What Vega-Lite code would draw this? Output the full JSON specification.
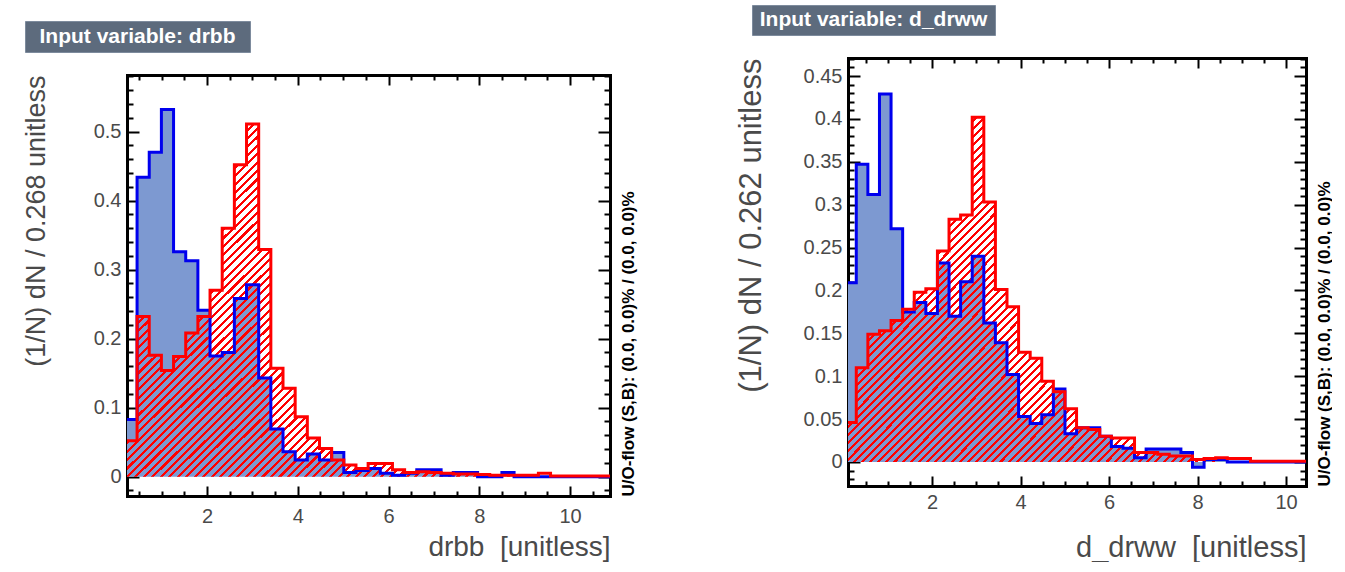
{
  "$schema": "https://vega.github.io/schema/vega-lite/v6.json",
  "background": "white",
  "padding": {"left": 22, "top": 4, "right": 0, "bottom": 0},
  "config": {
    "view": {"stroke": null},
    "axis": {"grid": false, "domainColor": "black", "domainWidth": 3, "domainCap": "square", "tickColor": "black", "tickWidth": 2, "labelFont": "Liberation Sans", "labelFontSize": 20, "labelColor": "#4a4a4a", "titleFont": "Liberation Sans", "titleFontSize": 28, "titleFontWeight": "normal", "titleColor": "#4a4a4a", "zindex": 1, "labelFlush": false, "labelOverlap": false}
  },
  "spacing": 99,
  "hconcat": [
    {
      "spacing": 0,
      "vconcat": [
        {"width": 1, "height": 15, "view": {"fill": "white", "stroke": null}, "data": {"values": []}, "mark": "point"},
        {
          "spacing": 21,
          "vconcat": [
            {"width": 225, "height": 31, "view": {"fill": "#5D6B7D", "stroke": "#7D8B9D"}, "data": {"values": [{"label": "Input variable: drbb"}]}, "mark": {"type": "text", "font": "Liberation Sans", "fontWeight": "bold", "fontSize": 21, "fill": "white"}, "encoding": {"text": {"field": "label"}}},
            {
              "spacing": -4,
              "hconcat": [
                {"width": 1, "height": 1, "view": {"fill": "white", "stroke": null}, "data": {"values": []}, "mark": "point"},
                {
                  "width": 483, "height": 421,
                  "data": {"values": [
{"x":0.190,"sig":0.083,"bkg":0.052},{"x":0.458,"sig":0.434,"bkg":0.232},{"x":0.726,"sig":0.470,"bkg":0.176},{"x":0.994,"sig":0.532,"bkg":0.154},
{"x":1.262,"sig":0.326,"bkg":0.174},{"x":1.530,"sig":0.313,"bkg":0.208},{"x":1.798,"sig":0.241,"bkg":0.232},{"x":2.066,"sig":0.175,"bkg":0.270},
{"x":2.334,"sig":0.180,"bkg":0.360},{"x":2.602,"sig":0.258,"bkg":0.452},{"x":2.870,"sig":0.278,"bkg":0.511},{"x":3.138,"sig":0.143,"bkg":0.329},
{"x":3.406,"sig":0.069,"bkg":0.157},{"x":3.674,"sig":0.036,"bkg":0.128},{"x":3.942,"sig":0.024,"bkg":0.087},{"x":4.210,"sig":0.033,"bkg":0.056},
{"x":4.478,"sig":0.024,"bkg":0.041},{"x":4.746,"sig":0.035,"bkg":0.024},{"x":5.014,"sig":0.006,"bkg":0.017},{"x":5.282,"sig":0.009,"bkg":0.012},
{"x":5.550,"sig":0.012,"bkg":0.019},{"x":5.818,"sig":0.005,"bkg":0.019},{"x":6.086,"sig":0.002,"bkg":0.010},{"x":6.354,"sig":0.005,"bkg":0.006},
{"x":6.622,"sig":0.010,"bkg":0.007},{"x":6.890,"sig":0.010,"bkg":0.006},{"x":7.158,"sig":0.002,"bkg":0.005},{"x":7.426,"sig":0.006,"bkg":0.004},
{"x":7.694,"sig":0.006,"bkg":0.004},{"x":7.962,"sig":0.000,"bkg":0.003},{"x":8.230,"sig":0.000,"bkg":0.002},{"x":8.498,"sig":0.006,"bkg":0.002},
{"x":8.766,"sig":0.000,"bkg":0.002},{"x":9.034,"sig":0.000,"bkg":0.002},{"x":9.302,"sig":0.000,"bkg":0.005},{"x":9.570,"sig":0.000,"bkg":0.001},
{"x":9.838,"sig":0.000,"bkg":0.001},{"x":10.106,"sig":0.000,"bkg":0.001},{"x":10.374,"sig":0.000,"bkg":0.001},{"x":10.642,"sig":0.000,"bkg":0.001},
{"x":10.910,"sig":0.000,"bkg":0.001}
                  ]},
                  "resolve": {"axis": {"x": "independent", "y": "independent"}},
                  "layer": [
                    {
                      "mark": {"type": "area", "interpolate": "step-after", "fill": "#7d99d1", "opacity": 1, "clip": true},
                      "encoding": {
                        "x": {"field": "x", "type": "quantitative", "scale": {"domain": [0.236, 10.88], "nice": false, "zero": false},
                              "axis": {"orient": "bottom", "values": [2, 4, 6, 8, 10], "format": "~r", "tickSize": -10, "labelPadding": 20, "title": "drbb\u00a0 [unitless]", "titleAnchor": "end", "titleAlign": "right", "titleBaseline": "top", "titlePadding": 7}},
                        "y": {"field": "sig", "type": "quantitative", "scale": {"domain": [-0.028, 0.582], "nice": false, "zero": false},
                              "axis": {"orient": "left", "values": [0, 0.1, 0.2, 0.3, 0.4, 0.5], "format": "~r", "tickSize": -12, "labelPadding": 18, "title": "(1/N) dN / 0.268 unitless", "titleFontSize": 27, "titleAnchor": "end", "titleAlign": "right", "titleAngle": 270, "titleBaseline": "bottom", "titlePadding": 43}},
                        "y2": {"datum": 0}
                      }
                    },
                    {
                      "mark": {"type": "area", "interpolate": "step-after", "opacity": 1, "clip": true,
                        "fill": {"gradient": "linear", "x1": 0, "y1": 0, "x2": 1, "y2": 0.73, "stops": [
{"offset":0,"color":"red"},{"offset":0.0042,"color":"red"},{"offset":0.0042,"color":"transparent"},{"offset":0.0114,"color":"transparent"},
{"offset":0.0114,"color":"red"},{"offset":0.0156,"color":"red"},{"offset":0.0156,"color":"transparent"},{"offset":0.0227,"color":"transparent"},
{"offset":0.0227,"color":"red"},{"offset":0.0269,"color":"red"},{"offset":0.0269,"color":"transparent"},{"offset":0.0341,"color":"transparent"},
{"offset":0.0341,"color":"red"},{"offset":0.0383,"color":"red"},{"offset":0.0383,"color":"transparent"},{"offset":0.0455,"color":"transparent"},
{"offset":0.0455,"color":"red"},{"offset":0.0497,"color":"red"},{"offset":0.0497,"color":"transparent"},{"offset":0.0568,"color":"transparent"},
{"offset":0.0568,"color":"red"},{"offset":0.0610,"color":"red"},{"offset":0.0610,"color":"transparent"},{"offset":0.0682,"color":"transparent"},
{"offset":0.0682,"color":"red"},{"offset":0.0724,"color":"red"},{"offset":0.0724,"color":"transparent"},{"offset":0.0795,"color":"transparent"},
{"offset":0.0795,"color":"red"},{"offset":0.0837,"color":"red"},{"offset":0.0837,"color":"transparent"},{"offset":0.0909,"color":"transparent"},
{"offset":0.0909,"color":"red"},{"offset":0.0951,"color":"red"},{"offset":0.0951,"color":"transparent"},{"offset":0.1023,"color":"transparent"},
{"offset":0.1023,"color":"red"},{"offset":0.1065,"color":"red"},{"offset":0.1065,"color":"transparent"},{"offset":0.1136,"color":"transparent"},
{"offset":0.1136,"color":"red"},{"offset":0.1178,"color":"red"},{"offset":0.1178,"color":"transparent"},{"offset":0.1250,"color":"transparent"},
{"offset":0.1250,"color":"red"},{"offset":0.1292,"color":"red"},{"offset":0.1292,"color":"transparent"},{"offset":0.1364,"color":"transparent"},
{"offset":0.1364,"color":"red"},{"offset":0.1406,"color":"red"},{"offset":0.1406,"color":"transparent"},{"offset":0.1477,"color":"transparent"},
{"offset":0.1477,"color":"red"},{"offset":0.1519,"color":"red"},{"offset":0.1519,"color":"transparent"},{"offset":0.1591,"color":"transparent"},
{"offset":0.1591,"color":"red"},{"offset":0.1633,"color":"red"},{"offset":0.1633,"color":"transparent"},{"offset":0.1705,"color":"transparent"},
{"offset":0.1705,"color":"red"},{"offset":0.1747,"color":"red"},{"offset":0.1747,"color":"transparent"},{"offset":0.1818,"color":"transparent"},
{"offset":0.1818,"color":"red"},{"offset":0.1860,"color":"red"},{"offset":0.1860,"color":"transparent"},{"offset":0.1932,"color":"transparent"},
{"offset":0.1932,"color":"red"},{"offset":0.1974,"color":"red"},{"offset":0.1974,"color":"transparent"},{"offset":0.2045,"color":"transparent"},
{"offset":0.2045,"color":"red"},{"offset":0.2087,"color":"red"},{"offset":0.2087,"color":"transparent"},{"offset":0.2159,"color":"transparent"},
{"offset":0.2159,"color":"red"},{"offset":0.2201,"color":"red"},{"offset":0.2201,"color":"transparent"},{"offset":0.2273,"color":"transparent"},
{"offset":0.2273,"color":"red"},{"offset":0.2315,"color":"red"},{"offset":0.2315,"color":"transparent"},{"offset":0.2386,"color":"transparent"},
{"offset":0.2386,"color":"red"},{"offset":0.2428,"color":"red"},{"offset":0.2428,"color":"transparent"},{"offset":0.2500,"color":"transparent"},
{"offset":0.2500,"color":"red"},{"offset":0.2542,"color":"red"},{"offset":0.2542,"color":"transparent"},{"offset":0.2614,"color":"transparent"},
{"offset":0.2614,"color":"red"},{"offset":0.2656,"color":"red"},{"offset":0.2656,"color":"transparent"},{"offset":0.2727,"color":"transparent"},
{"offset":0.2727,"color":"red"},{"offset":0.2769,"color":"red"},{"offset":0.2769,"color":"transparent"},{"offset":0.2841,"color":"transparent"},
{"offset":0.2841,"color":"red"},{"offset":0.2883,"color":"red"},{"offset":0.2883,"color":"transparent"},{"offset":0.2955,"color":"transparent"},
{"offset":0.2955,"color":"red"},{"offset":0.2997,"color":"red"},{"offset":0.2997,"color":"transparent"},{"offset":0.3068,"color":"transparent"},
{"offset":0.3068,"color":"red"},{"offset":0.3110,"color":"red"},{"offset":0.3110,"color":"transparent"},{"offset":0.3182,"color":"transparent"},
{"offset":0.3182,"color":"red"},{"offset":0.3224,"color":"red"},{"offset":0.3224,"color":"transparent"},{"offset":0.3295,"color":"transparent"},
{"offset":0.3295,"color":"red"},{"offset":0.3337,"color":"red"},{"offset":0.3337,"color":"transparent"},{"offset":0.3409,"color":"transparent"},
{"offset":0.3409,"color":"red"},{"offset":0.3451,"color":"red"},{"offset":0.3451,"color":"transparent"},{"offset":0.3523,"color":"transparent"},
{"offset":0.3523,"color":"red"},{"offset":0.3565,"color":"red"},{"offset":0.3565,"color":"transparent"},{"offset":0.3636,"color":"transparent"},
{"offset":0.3636,"color":"red"},{"offset":0.3678,"color":"red"},{"offset":0.3678,"color":"transparent"},{"offset":0.3750,"color":"transparent"},
{"offset":0.3750,"color":"red"},{"offset":0.3792,"color":"red"},{"offset":0.3792,"color":"transparent"},{"offset":0.3864,"color":"transparent"},
{"offset":0.3864,"color":"red"},{"offset":0.3906,"color":"red"},{"offset":0.3906,"color":"transparent"},{"offset":0.3977,"color":"transparent"},
{"offset":0.3977,"color":"red"},{"offset":0.4019,"color":"red"},{"offset":0.4019,"color":"transparent"},{"offset":0.4091,"color":"transparent"},
{"offset":0.4091,"color":"red"},{"offset":0.4133,"color":"red"},{"offset":0.4133,"color":"transparent"},{"offset":0.4205,"color":"transparent"},
{"offset":0.4205,"color":"red"},{"offset":0.4247,"color":"red"},{"offset":0.4247,"color":"transparent"},{"offset":0.4318,"color":"transparent"},
{"offset":0.4318,"color":"red"},{"offset":0.4360,"color":"red"},{"offset":0.4360,"color":"transparent"},{"offset":0.4432,"color":"transparent"},
{"offset":0.4432,"color":"red"},{"offset":0.4474,"color":"red"},{"offset":0.4474,"color":"transparent"},{"offset":0.4545,"color":"transparent"},
{"offset":0.4545,"color":"red"},{"offset":0.4587,"color":"red"},{"offset":0.4587,"color":"transparent"},{"offset":0.4659,"color":"transparent"},
{"offset":0.4659,"color":"red"},{"offset":0.4701,"color":"red"},{"offset":0.4701,"color":"transparent"},{"offset":0.4773,"color":"transparent"},
{"offset":0.4773,"color":"red"},{"offset":0.4815,"color":"red"},{"offset":0.4815,"color":"transparent"},{"offset":0.4886,"color":"transparent"},
{"offset":0.4886,"color":"red"},{"offset":0.4928,"color":"red"},{"offset":0.4928,"color":"transparent"},{"offset":0.5000,"color":"transparent"},
{"offset":0.5000,"color":"red"},{"offset":0.5042,"color":"red"},{"offset":0.5042,"color":"transparent"},{"offset":0.5114,"color":"transparent"},
{"offset":0.5114,"color":"red"},{"offset":0.5156,"color":"red"},{"offset":0.5156,"color":"transparent"},{"offset":0.5227,"color":"transparent"},
{"offset":0.5227,"color":"red"},{"offset":0.5269,"color":"red"},{"offset":0.5269,"color":"transparent"},{"offset":0.5341,"color":"transparent"},
{"offset":0.5341,"color":"red"},{"offset":0.5383,"color":"red"},{"offset":0.5383,"color":"transparent"},{"offset":0.5455,"color":"transparent"},
{"offset":0.5455,"color":"red"},{"offset":0.5497,"color":"red"},{"offset":0.5497,"color":"transparent"},{"offset":0.5568,"color":"transparent"},
{"offset":0.5568,"color":"red"},{"offset":0.5610,"color":"red"},{"offset":0.5610,"color":"transparent"},{"offset":0.5682,"color":"transparent"},
{"offset":0.5682,"color":"red"},{"offset":0.5724,"color":"red"},{"offset":0.5724,"color":"transparent"},{"offset":0.5795,"color":"transparent"},
{"offset":0.5795,"color":"red"},{"offset":0.5837,"color":"red"},{"offset":0.5837,"color":"transparent"},{"offset":0.5909,"color":"transparent"},
{"offset":0.5909,"color":"red"},{"offset":0.5951,"color":"red"},{"offset":0.5951,"color":"transparent"},{"offset":0.6023,"color":"transparent"},
{"offset":0.6023,"color":"red"},{"offset":0.6065,"color":"red"},{"offset":0.6065,"color":"transparent"},{"offset":0.6136,"color":"transparent"},
{"offset":0.6136,"color":"red"},{"offset":0.6178,"color":"red"},{"offset":0.6178,"color":"transparent"},{"offset":0.6250,"color":"transparent"},
{"offset":0.6250,"color":"red"},{"offset":0.6292,"color":"red"},{"offset":0.6292,"color":"transparent"},{"offset":0.6364,"color":"transparent"},
{"offset":0.6364,"color":"red"},{"offset":0.6406,"color":"red"},{"offset":0.6406,"color":"transparent"},{"offset":0.6477,"color":"transparent"},
{"offset":0.6477,"color":"red"},{"offset":0.6519,"color":"red"},{"offset":0.6519,"color":"transparent"},{"offset":0.6591,"color":"transparent"},
{"offset":0.6591,"color":"red"},{"offset":0.6633,"color":"red"},{"offset":0.6633,"color":"transparent"},{"offset":0.6705,"color":"transparent"},
{"offset":0.6705,"color":"red"},{"offset":0.6747,"color":"red"},{"offset":0.6747,"color":"transparent"},{"offset":0.6818,"color":"transparent"},
{"offset":0.6818,"color":"red"},{"offset":0.6860,"color":"red"},{"offset":0.6860,"color":"transparent"},{"offset":0.6932,"color":"transparent"},
{"offset":0.6932,"color":"red"},{"offset":0.6974,"color":"red"},{"offset":0.6974,"color":"transparent"},{"offset":0.7045,"color":"transparent"},
{"offset":0.7045,"color":"red"},{"offset":0.7087,"color":"red"},{"offset":0.7087,"color":"transparent"},{"offset":0.7159,"color":"transparent"},
{"offset":0.7159,"color":"red"},{"offset":0.7201,"color":"red"},{"offset":0.7201,"color":"transparent"},{"offset":0.7273,"color":"transparent"},
{"offset":0.7273,"color":"red"},{"offset":0.7315,"color":"red"},{"offset":0.7315,"color":"transparent"},{"offset":0.7386,"color":"transparent"},
{"offset":0.7386,"color":"red"},{"offset":0.7428,"color":"red"},{"offset":0.7428,"color":"transparent"},{"offset":0.7500,"color":"transparent"},
{"offset":0.7500,"color":"red"},{"offset":0.7542,"color":"red"},{"offset":0.7542,"color":"transparent"},{"offset":0.7614,"color":"transparent"},
{"offset":0.7614,"color":"red"},{"offset":0.7656,"color":"red"},{"offset":0.7656,"color":"transparent"},{"offset":0.7727,"color":"transparent"},
{"offset":0.7727,"color":"red"},{"offset":0.7769,"color":"red"},{"offset":0.7769,"color":"transparent"},{"offset":0.7841,"color":"transparent"},
{"offset":0.7841,"color":"red"},{"offset":0.7883,"color":"red"},{"offset":0.7883,"color":"transparent"},{"offset":0.7955,"color":"transparent"},
{"offset":0.7955,"color":"red"},{"offset":0.7997,"color":"red"},{"offset":0.7997,"color":"transparent"},{"offset":0.8068,"color":"transparent"},
{"offset":0.8068,"color":"red"},{"offset":0.8110,"color":"red"},{"offset":0.8110,"color":"transparent"},{"offset":0.8182,"color":"transparent"},
{"offset":0.8182,"color":"red"},{"offset":0.8224,"color":"red"},{"offset":0.8224,"color":"transparent"},{"offset":0.8295,"color":"transparent"},
{"offset":0.8295,"color":"red"},{"offset":0.8337,"color":"red"},{"offset":0.8337,"color":"transparent"},{"offset":0.8409,"color":"transparent"},
{"offset":0.8409,"color":"red"},{"offset":0.8451,"color":"red"},{"offset":0.8451,"color":"transparent"},{"offset":0.8523,"color":"transparent"},
{"offset":0.8523,"color":"red"},{"offset":0.8565,"color":"red"},{"offset":0.8565,"color":"transparent"},{"offset":0.8636,"color":"transparent"},
{"offset":0.8636,"color":"red"},{"offset":0.8678,"color":"red"},{"offset":0.8678,"color":"transparent"},{"offset":0.8750,"color":"transparent"},
{"offset":0.8750,"color":"red"},{"offset":0.8792,"color":"red"},{"offset":0.8792,"color":"transparent"},{"offset":0.8864,"color":"transparent"},
{"offset":0.8864,"color":"red"},{"offset":0.8906,"color":"red"},{"offset":0.8906,"color":"transparent"},{"offset":0.8977,"color":"transparent"},
{"offset":0.8977,"color":"red"},{"offset":0.9019,"color":"red"},{"offset":0.9019,"color":"transparent"},{"offset":0.9091,"color":"transparent"},
{"offset":0.9091,"color":"red"},{"offset":0.9133,"color":"red"},{"offset":0.9133,"color":"transparent"},{"offset":0.9205,"color":"transparent"},
{"offset":0.9205,"color":"red"},{"offset":0.9247,"color":"red"},{"offset":0.9247,"color":"transparent"},{"offset":0.9318,"color":"transparent"},
{"offset":0.9318,"color":"red"},{"offset":0.9360,"color":"red"},{"offset":0.9360,"color":"transparent"},{"offset":0.9432,"color":"transparent"},
{"offset":0.9432,"color":"red"},{"offset":0.9474,"color":"red"},{"offset":0.9474,"color":"transparent"},{"offset":0.9545,"color":"transparent"},
{"offset":0.9545,"color":"red"},{"offset":0.9587,"color":"red"},{"offset":0.9587,"color":"transparent"},{"offset":0.9659,"color":"transparent"},
{"offset":0.9659,"color":"red"},{"offset":0.9701,"color":"red"},{"offset":0.9701,"color":"transparent"},{"offset":0.9773,"color":"transparent"},
{"offset":0.9773,"color":"red"},{"offset":0.9815,"color":"red"},{"offset":0.9815,"color":"transparent"},{"offset":0.9886,"color":"transparent"},
{"offset":0.9886,"color":"red"},{"offset":0.9928,"color":"red"},{"offset":0.9928,"color":"transparent"},{"offset":1,"color":"transparent"}
                        ]}},
                      "encoding": {
                        "x": {"field": "x", "type": "quantitative", "axis": {"orient": "bottom", "values": [0.5, 1, 1.5, 2.5, 3, 3.5, 4.5, 5, 5.5, 6.5, 7, 7.5, 8.5, 9, 9.5, 10.5], "labels": false, "domain": false, "tickSize": -5, "title": null}},
                        "y": {"field": "bkg", "type": "quantitative", "axis": {"orient": "left", "values": [-0.02, 0.02, 0.04, 0.06, 0.08, 0.12, 0.14, 0.16, 0.18, 0.22, 0.24, 0.26, 0.28, 0.32, 0.34, 0.36, 0.38, 0.42, 0.44, 0.46, 0.48, 0.52, 0.54, 0.56, 0.58], "labels": false, "domain": false, "tickSize": -6, "title": null}},
                        "y2": {"datum": 0}
                      }
                    },
                    {
                      "mark": {"type": "line", "interpolate": "step-after", "stroke": "#0000ee", "strokeWidth": 3, "clip": true},
                      "encoding": {
                        "x": {"field": "x", "type": "quantitative", "axis": {"orient": "top", "values": [2, 4, 6, 8, 10], "labels": false, "tickSize": -10, "title": null}},
                        "y": {"field": "sig", "type": "quantitative", "axis": {"orient": "right", "values": [0, 0.1, 0.2, 0.3, 0.4, 0.5], "labels": false, "tickSize": -12, "title": "U/O-flow (S,B): (0.0, 0.0)% / (0.0, 0.0)%", "titleAngle": 270, "titleAnchor": "start", "titleAlign": "left", "titleBaseline": "top", "titlePadding": 9, "titleFontSize": 17, "titleFontWeight": "bold", "titleColor": "black"}}
                      }
                    },
                    {
                      "mark": {"type": "line", "interpolate": "step-after", "stroke": "#ff0000", "strokeWidth": 3, "clip": true},
                      "encoding": {
                        "x": {"field": "x", "type": "quantitative", "axis": {"orient": "top", "values": [0.5, 1, 1.5, 2.5, 3, 3.5, 4.5, 5, 5.5, 6.5, 7, 7.5, 8.5, 9, 9.5, 10.5], "labels": false, "domain": false, "tickSize": -5, "title": null}},
                        "y": {"field": "bkg", "type": "quantitative", "axis": {"orient": "right", "values": [-0.02, 0.02, 0.04, 0.06, 0.08, 0.12, 0.14, 0.16, 0.18, 0.22, 0.24, 0.26, 0.28, 0.32, 0.34, 0.36, 0.38, 0.42, 0.44, 0.46, 0.48, 0.52, 0.54, 0.56, 0.58], "labels": false, "domain": false, "tickSize": -6, "title": null}}
                      }
                    }
                  ]
                }
              ]
            }
          ]
        }
      ]
    },
    {
      "spacing": 21,
      "vconcat": [
        {"width": 243, "height": 30, "view": {"fill": "#5D6B7D", "stroke": "#7D8B9D"}, "data": {"values": [{"label": "Input variable: d_drww"}]}, "mark": {"type": "text", "font": "Liberation Sans", "fontWeight": "bold", "fontSize": 21, "fill": "white"}, "encoding": {"text": {"field": "label"}}},
        {
          "spacing": -18,
          "hconcat": [
            {"width": 1, "height": 1, "view": {"fill": "white", "stroke": null}, "data": {"values": []}, "mark": "point"},
            {
              "width": 458, "height": 428,
              "data": {"values": [
{"x":0.025,"sig":0.209,"bkg":0.046},{"x":0.287,"sig":0.347,"bkg":0.110},{"x":0.549,"sig":0.312,"bkg":0.149},{"x":0.811,"sig":0.429,"bkg":0.153},
{"x":1.073,"sig":0.272,"bkg":0.165},{"x":1.335,"sig":0.175,"bkg":0.178},{"x":1.597,"sig":0.186,"bkg":0.198},{"x":1.859,"sig":0.173,"bkg":0.202},
{"x":2.121,"sig":0.232,"bkg":0.246},{"x":2.383,"sig":0.170,"bkg":0.283},{"x":2.645,"sig":0.210,"bkg":0.288},{"x":2.907,"sig":0.240,"bkg":0.402},
{"x":3.169,"sig":0.162,"bkg":0.303},{"x":3.431,"sig":0.139,"bkg":0.201},{"x":3.693,"sig":0.102,"bkg":0.181},{"x":3.955,"sig":0.053,"bkg":0.128},
{"x":4.217,"sig":0.045,"bkg":0.121},{"x":4.479,"sig":0.055,"bkg":0.094},{"x":4.741,"sig":0.085,"bkg":0.082},{"x":5.003,"sig":0.033,"bkg":0.062},
{"x":5.265,"sig":0.040,"bkg":0.040},{"x":5.527,"sig":0.040,"bkg":0.038},{"x":5.789,"sig":0.030,"bkg":0.030},{"x":6.051,"sig":0.018,"bkg":0.028},
{"x":6.313,"sig":0.016,"bkg":0.028},{"x":6.575,"sig":0.005,"bkg":0.011},{"x":6.837,"sig":0.015,"bkg":0.011},{"x":7.099,"sig":0.015,"bkg":0.009},
{"x":7.361,"sig":0.015,"bkg":0.007},{"x":7.623,"sig":0.011,"bkg":0.007},{"x":7.885,"sig":-0.006,"bkg":0.003},{"x":8.147,"sig":0.003,"bkg":0.004},
{"x":8.409,"sig":0.003,"bkg":0.005},{"x":8.671,"sig":0.000,"bkg":0.004},{"x":8.933,"sig":0.000,"bkg":0.004},{"x":9.195,"sig":0.000,"bkg":0.001},
{"x":9.457,"sig":0.000,"bkg":0.001},{"x":9.719,"sig":0.000,"bkg":0.001},{"x":9.981,"sig":0.000,"bkg":0.001},{"x":10.243,"sig":0.000,"bkg":0.001},
{"x":10.505,"sig":0.000,"bkg":0.001}
              ]},
              "resolve": {"axis": {"x": "independent", "y": "independent"}},
              "layer": [
                {
                  "mark": {"type": "area", "interpolate": "step-after", "fill": "#7d99d1", "opacity": 1, "clip": true},
                  "encoding": {
                    "x": {"field": "x", "type": "quantitative", "scale": {"domain": [0.10, 10.45], "nice": false, "zero": false},
                          "axis": {"orient": "bottom", "values": [2, 4, 6, 8, 10], "format": "~r", "tickSize": -10, "labelPadding": 16, "title": "d_drww\u00a0 [unitless]", "titleFontSize": 29, "titleAnchor": "end", "titleAlign": "right", "titleBaseline": "top", "titlePadding": 21}},
                    "y": {"field": "sig", "type": "quantitative", "scale": {"domain": [-0.028, 0.471], "nice": false, "zero": false},
                          "axis": {"orient": "left", "values": [0, 0.05, 0.1, 0.15, 0.2, 0.25, 0.3, 0.35, 0.4, 0.45], "format": "~r", "tickSize": -12, "labelPadding": 18, "title": "(1/N) dN / 0.262 unitless", "titleFontSize": 31, "titleAnchor": "end", "titleAlign": "right", "titleAngle": 270, "titleBaseline": "bottom", "titlePadding": 36}},
                    "y2": {"datum": 0}
                  }
                },
                {
                  "mark": {"type": "area", "interpolate": "step-after", "opacity": 1, "clip": true,
                    "fill": {"gradient": "linear", "x1": 0, "y1": 0, "x2": 1, "y2": 0.74, "stops": [
{"offset":0,"color":"red"},{"offset":0.0042,"color":"red"},{"offset":0.0042,"color":"transparent"},{"offset":0.0114,"color":"transparent"},
{"offset":0.0114,"color":"red"},{"offset":0.0156,"color":"red"},{"offset":0.0156,"color":"transparent"},{"offset":0.0227,"color":"transparent"},
{"offset":0.0227,"color":"red"},{"offset":0.0269,"color":"red"},{"offset":0.0269,"color":"transparent"},{"offset":0.0341,"color":"transparent"},
{"offset":0.0341,"color":"red"},{"offset":0.0383,"color":"red"},{"offset":0.0383,"color":"transparent"},{"offset":0.0455,"color":"transparent"},
{"offset":0.0455,"color":"red"},{"offset":0.0497,"color":"red"},{"offset":0.0497,"color":"transparent"},{"offset":0.0568,"color":"transparent"},
{"offset":0.0568,"color":"red"},{"offset":0.0610,"color":"red"},{"offset":0.0610,"color":"transparent"},{"offset":0.0682,"color":"transparent"},
{"offset":0.0682,"color":"red"},{"offset":0.0724,"color":"red"},{"offset":0.0724,"color":"transparent"},{"offset":0.0795,"color":"transparent"},
{"offset":0.0795,"color":"red"},{"offset":0.0837,"color":"red"},{"offset":0.0837,"color":"transparent"},{"offset":0.0909,"color":"transparent"},
{"offset":0.0909,"color":"red"},{"offset":0.0951,"color":"red"},{"offset":0.0951,"color":"transparent"},{"offset":0.1023,"color":"transparent"},
{"offset":0.1023,"color":"red"},{"offset":0.1065,"color":"red"},{"offset":0.1065,"color":"transparent"},{"offset":0.1136,"color":"transparent"},
{"offset":0.1136,"color":"red"},{"offset":0.1178,"color":"red"},{"offset":0.1178,"color":"transparent"},{"offset":0.1250,"color":"transparent"},
{"offset":0.1250,"color":"red"},{"offset":0.1292,"color":"red"},{"offset":0.1292,"color":"transparent"},{"offset":0.1364,"color":"transparent"},
{"offset":0.1364,"color":"red"},{"offset":0.1406,"color":"red"},{"offset":0.1406,"color":"transparent"},{"offset":0.1477,"color":"transparent"},
{"offset":0.1477,"color":"red"},{"offset":0.1519,"color":"red"},{"offset":0.1519,"color":"transparent"},{"offset":0.1591,"color":"transparent"},
{"offset":0.1591,"color":"red"},{"offset":0.1633,"color":"red"},{"offset":0.1633,"color":"transparent"},{"offset":0.1705,"color":"transparent"},
{"offset":0.1705,"color":"red"},{"offset":0.1747,"color":"red"},{"offset":0.1747,"color":"transparent"},{"offset":0.1818,"color":"transparent"},
{"offset":0.1818,"color":"red"},{"offset":0.1860,"color":"red"},{"offset":0.1860,"color":"transparent"},{"offset":0.1932,"color":"transparent"},
{"offset":0.1932,"color":"red"},{"offset":0.1974,"color":"red"},{"offset":0.1974,"color":"transparent"},{"offset":0.2045,"color":"transparent"},
{"offset":0.2045,"color":"red"},{"offset":0.2087,"color":"red"},{"offset":0.2087,"color":"transparent"},{"offset":0.2159,"color":"transparent"},
{"offset":0.2159,"color":"red"},{"offset":0.2201,"color":"red"},{"offset":0.2201,"color":"transparent"},{"offset":0.2273,"color":"transparent"},
{"offset":0.2273,"color":"red"},{"offset":0.2315,"color":"red"},{"offset":0.2315,"color":"transparent"},{"offset":0.2386,"color":"transparent"},
{"offset":0.2386,"color":"red"},{"offset":0.2428,"color":"red"},{"offset":0.2428,"color":"transparent"},{"offset":0.2500,"color":"transparent"},
{"offset":0.2500,"color":"red"},{"offset":0.2542,"color":"red"},{"offset":0.2542,"color":"transparent"},{"offset":0.2614,"color":"transparent"},
{"offset":0.2614,"color":"red"},{"offset":0.2656,"color":"red"},{"offset":0.2656,"color":"transparent"},{"offset":0.2727,"color":"transparent"},
{"offset":0.2727,"color":"red"},{"offset":0.2769,"color":"red"},{"offset":0.2769,"color":"transparent"},{"offset":0.2841,"color":"transparent"},
{"offset":0.2841,"color":"red"},{"offset":0.2883,"color":"red"},{"offset":0.2883,"color":"transparent"},{"offset":0.2955,"color":"transparent"},
{"offset":0.2955,"color":"red"},{"offset":0.2997,"color":"red"},{"offset":0.2997,"color":"transparent"},{"offset":0.3068,"color":"transparent"},
{"offset":0.3068,"color":"red"},{"offset":0.3110,"color":"red"},{"offset":0.3110,"color":"transparent"},{"offset":0.3182,"color":"transparent"},
{"offset":0.3182,"color":"red"},{"offset":0.3224,"color":"red"},{"offset":0.3224,"color":"transparent"},{"offset":0.3295,"color":"transparent"},
{"offset":0.3295,"color":"red"},{"offset":0.3337,"color":"red"},{"offset":0.3337,"color":"transparent"},{"offset":0.3409,"color":"transparent"},
{"offset":0.3409,"color":"red"},{"offset":0.3451,"color":"red"},{"offset":0.3451,"color":"transparent"},{"offset":0.3523,"color":"transparent"},
{"offset":0.3523,"color":"red"},{"offset":0.3565,"color":"red"},{"offset":0.3565,"color":"transparent"},{"offset":0.3636,"color":"transparent"},
{"offset":0.3636,"color":"red"},{"offset":0.3678,"color":"red"},{"offset":0.3678,"color":"transparent"},{"offset":0.3750,"color":"transparent"},
{"offset":0.3750,"color":"red"},{"offset":0.3792,"color":"red"},{"offset":0.3792,"color":"transparent"},{"offset":0.3864,"color":"transparent"},
{"offset":0.3864,"color":"red"},{"offset":0.3906,"color":"red"},{"offset":0.3906,"color":"transparent"},{"offset":0.3977,"color":"transparent"},
{"offset":0.3977,"color":"red"},{"offset":0.4019,"color":"red"},{"offset":0.4019,"color":"transparent"},{"offset":0.4091,"color":"transparent"},
{"offset":0.4091,"color":"red"},{"offset":0.4133,"color":"red"},{"offset":0.4133,"color":"transparent"},{"offset":0.4205,"color":"transparent"},
{"offset":0.4205,"color":"red"},{"offset":0.4247,"color":"red"},{"offset":0.4247,"color":"transparent"},{"offset":0.4318,"color":"transparent"},
{"offset":0.4318,"color":"red"},{"offset":0.4360,"color":"red"},{"offset":0.4360,"color":"transparent"},{"offset":0.4432,"color":"transparent"},
{"offset":0.4432,"color":"red"},{"offset":0.4474,"color":"red"},{"offset":0.4474,"color":"transparent"},{"offset":0.4545,"color":"transparent"},
{"offset":0.4545,"color":"red"},{"offset":0.4587,"color":"red"},{"offset":0.4587,"color":"transparent"},{"offset":0.4659,"color":"transparent"},
{"offset":0.4659,"color":"red"},{"offset":0.4701,"color":"red"},{"offset":0.4701,"color":"transparent"},{"offset":0.4773,"color":"transparent"},
{"offset":0.4773,"color":"red"},{"offset":0.4815,"color":"red"},{"offset":0.4815,"color":"transparent"},{"offset":0.4886,"color":"transparent"},
{"offset":0.4886,"color":"red"},{"offset":0.4928,"color":"red"},{"offset":0.4928,"color":"transparent"},{"offset":0.5000,"color":"transparent"},
{"offset":0.5000,"color":"red"},{"offset":0.5042,"color":"red"},{"offset":0.5042,"color":"transparent"},{"offset":0.5114,"color":"transparent"},
{"offset":0.5114,"color":"red"},{"offset":0.5156,"color":"red"},{"offset":0.5156,"color":"transparent"},{"offset":0.5227,"color":"transparent"},
{"offset":0.5227,"color":"red"},{"offset":0.5269,"color":"red"},{"offset":0.5269,"color":"transparent"},{"offset":0.5341,"color":"transparent"},
{"offset":0.5341,"color":"red"},{"offset":0.5383,"color":"red"},{"offset":0.5383,"color":"transparent"},{"offset":0.5455,"color":"transparent"},
{"offset":0.5455,"color":"red"},{"offset":0.5497,"color":"red"},{"offset":0.5497,"color":"transparent"},{"offset":0.5568,"color":"transparent"},
{"offset":0.5568,"color":"red"},{"offset":0.5610,"color":"red"},{"offset":0.5610,"color":"transparent"},{"offset":0.5682,"color":"transparent"},
{"offset":0.5682,"color":"red"},{"offset":0.5724,"color":"red"},{"offset":0.5724,"color":"transparent"},{"offset":0.5795,"color":"transparent"},
{"offset":0.5795,"color":"red"},{"offset":0.5837,"color":"red"},{"offset":0.5837,"color":"transparent"},{"offset":0.5909,"color":"transparent"},
{"offset":0.5909,"color":"red"},{"offset":0.5951,"color":"red"},{"offset":0.5951,"color":"transparent"},{"offset":0.6023,"color":"transparent"},
{"offset":0.6023,"color":"red"},{"offset":0.6065,"color":"red"},{"offset":0.6065,"color":"transparent"},{"offset":0.6136,"color":"transparent"},
{"offset":0.6136,"color":"red"},{"offset":0.6178,"color":"red"},{"offset":0.6178,"color":"transparent"},{"offset":0.6250,"color":"transparent"},
{"offset":0.6250,"color":"red"},{"offset":0.6292,"color":"red"},{"offset":0.6292,"color":"transparent"},{"offset":0.6364,"color":"transparent"},
{"offset":0.6364,"color":"red"},{"offset":0.6406,"color":"red"},{"offset":0.6406,"color":"transparent"},{"offset":0.6477,"color":"transparent"},
{"offset":0.6477,"color":"red"},{"offset":0.6519,"color":"red"},{"offset":0.6519,"color":"transparent"},{"offset":0.6591,"color":"transparent"},
{"offset":0.6591,"color":"red"},{"offset":0.6633,"color":"red"},{"offset":0.6633,"color":"transparent"},{"offset":0.6705,"color":"transparent"},
{"offset":0.6705,"color":"red"},{"offset":0.6747,"color":"red"},{"offset":0.6747,"color":"transparent"},{"offset":0.6818,"color":"transparent"},
{"offset":0.6818,"color":"red"},{"offset":0.6860,"color":"red"},{"offset":0.6860,"color":"transparent"},{"offset":0.6932,"color":"transparent"},
{"offset":0.6932,"color":"red"},{"offset":0.6974,"color":"red"},{"offset":0.6974,"color":"transparent"},{"offset":0.7045,"color":"transparent"},
{"offset":0.7045,"color":"red"},{"offset":0.7087,"color":"red"},{"offset":0.7087,"color":"transparent"},{"offset":0.7159,"color":"transparent"},
{"offset":0.7159,"color":"red"},{"offset":0.7201,"color":"red"},{"offset":0.7201,"color":"transparent"},{"offset":0.7273,"color":"transparent"},
{"offset":0.7273,"color":"red"},{"offset":0.7315,"color":"red"},{"offset":0.7315,"color":"transparent"},{"offset":0.7386,"color":"transparent"},
{"offset":0.7386,"color":"red"},{"offset":0.7428,"color":"red"},{"offset":0.7428,"color":"transparent"},{"offset":0.7500,"color":"transparent"},
{"offset":0.7500,"color":"red"},{"offset":0.7542,"color":"red"},{"offset":0.7542,"color":"transparent"},{"offset":0.7614,"color":"transparent"},
{"offset":0.7614,"color":"red"},{"offset":0.7656,"color":"red"},{"offset":0.7656,"color":"transparent"},{"offset":0.7727,"color":"transparent"},
{"offset":0.7727,"color":"red"},{"offset":0.7769,"color":"red"},{"offset":0.7769,"color":"transparent"},{"offset":0.7841,"color":"transparent"},
{"offset":0.7841,"color":"red"},{"offset":0.7883,"color":"red"},{"offset":0.7883,"color":"transparent"},{"offset":0.7955,"color":"transparent"},
{"offset":0.7955,"color":"red"},{"offset":0.7997,"color":"red"},{"offset":0.7997,"color":"transparent"},{"offset":0.8068,"color":"transparent"},
{"offset":0.8068,"color":"red"},{"offset":0.8110,"color":"red"},{"offset":0.8110,"color":"transparent"},{"offset":0.8182,"color":"transparent"},
{"offset":0.8182,"color":"red"},{"offset":0.8224,"color":"red"},{"offset":0.8224,"color":"transparent"},{"offset":0.8295,"color":"transparent"},
{"offset":0.8295,"color":"red"},{"offset":0.8337,"color":"red"},{"offset":0.8337,"color":"transparent"},{"offset":0.8409,"color":"transparent"},
{"offset":0.8409,"color":"red"},{"offset":0.8451,"color":"red"},{"offset":0.8451,"color":"transparent"},{"offset":0.8523,"color":"transparent"},
{"offset":0.8523,"color":"red"},{"offset":0.8565,"color":"red"},{"offset":0.8565,"color":"transparent"},{"offset":0.8636,"color":"transparent"},
{"offset":0.8636,"color":"red"},{"offset":0.8678,"color":"red"},{"offset":0.8678,"color":"transparent"},{"offset":0.8750,"color":"transparent"},
{"offset":0.8750,"color":"red"},{"offset":0.8792,"color":"red"},{"offset":0.8792,"color":"transparent"},{"offset":0.8864,"color":"transparent"},
{"offset":0.8864,"color":"red"},{"offset":0.8906,"color":"red"},{"offset":0.8906,"color":"transparent"},{"offset":0.8977,"color":"transparent"},
{"offset":0.8977,"color":"red"},{"offset":0.9019,"color":"red"},{"offset":0.9019,"color":"transparent"},{"offset":0.9091,"color":"transparent"},
{"offset":0.9091,"color":"red"},{"offset":0.9133,"color":"red"},{"offset":0.9133,"color":"transparent"},{"offset":0.9205,"color":"transparent"},
{"offset":0.9205,"color":"red"},{"offset":0.9247,"color":"red"},{"offset":0.9247,"color":"transparent"},{"offset":0.9318,"color":"transparent"},
{"offset":0.9318,"color":"red"},{"offset":0.9360,"color":"red"},{"offset":0.9360,"color":"transparent"},{"offset":0.9432,"color":"transparent"},
{"offset":0.9432,"color":"red"},{"offset":0.9474,"color":"red"},{"offset":0.9474,"color":"transparent"},{"offset":0.9545,"color":"transparent"},
{"offset":0.9545,"color":"red"},{"offset":0.9587,"color":"red"},{"offset":0.9587,"color":"transparent"},{"offset":0.9659,"color":"transparent"},
{"offset":0.9659,"color":"red"},{"offset":0.9701,"color":"red"},{"offset":0.9701,"color":"transparent"},{"offset":0.9773,"color":"transparent"},
{"offset":0.9773,"color":"red"},{"offset":0.9815,"color":"red"},{"offset":0.9815,"color":"transparent"},{"offset":0.9886,"color":"transparent"},
{"offset":0.9886,"color":"red"},{"offset":0.9928,"color":"red"},{"offset":0.9928,"color":"transparent"},{"offset":1,"color":"transparent"}
                    ]}},
                  "encoding": {
                    "x": {"field": "x", "type": "quantitative", "axis": {"orient": "bottom", "values": [0.5, 1, 1.5, 2.5, 3, 3.5, 4.5, 5, 5.5, 6.5, 7, 7.5, 8.5, 9, 9.5], "labels": false, "domain": false, "tickSize": -5, "title": null}},
                    "y": {"field": "bkg", "type": "quantitative", "axis": {"orient": "left", "values": [-0.02, -0.01, 0.01, 0.02, 0.03, 0.04, 0.06, 0.07, 0.08, 0.09, 0.11, 0.12, 0.13, 0.14, 0.16, 0.17, 0.18, 0.19, 0.21, 0.22, 0.23, 0.24, 0.26, 0.27, 0.28, 0.29, 0.31, 0.32, 0.33, 0.34, 0.36, 0.37, 0.38, 0.39, 0.41, 0.42, 0.43, 0.44, 0.46, 0.47], "labels": false, "domain": false, "tickSize": -6, "title": null}},
                    "y2": {"datum": 0}
                  }
                },
                {
                  "mark": {"type": "line", "interpolate": "step-after", "stroke": "#0000ee", "strokeWidth": 3, "clip": true},
                  "encoding": {
                    "x": {"field": "x", "type": "quantitative", "axis": {"orient": "top", "values": [2, 4, 6, 8, 10], "labels": false, "tickSize": -10, "title": null}},
                    "y": {"field": "sig", "type": "quantitative", "axis": {"orient": "right", "values": [0, 0.05, 0.1, 0.15, 0.2, 0.25, 0.3, 0.35, 0.4, 0.45], "labels": false, "tickSize": -12, "title": "U/O-flow (S,B): (0.0, 0.0)% / (0.0, 0.0)%", "titleAngle": 270, "titleAnchor": "start", "titleAlign": "left", "titleBaseline": "top", "titlePadding": 9, "titleFontSize": 17, "titleFontWeight": "bold", "titleColor": "black"}}
                  }
                },
                {
                  "mark": {"type": "line", "interpolate": "step-after", "stroke": "#ff0000", "strokeWidth": 3, "clip": true},
                  "encoding": {
                    "x": {"field": "x", "type": "quantitative", "axis": {"orient": "top", "values": [0.5, 1, 1.5, 2.5, 3, 3.5, 4.5, 5, 5.5, 6.5, 7, 7.5, 8.5, 9, 9.5], "labels": false, "domain": false, "tickSize": -5, "title": null}},
                    "y": {"field": "bkg", "type": "quantitative", "axis": {"orient": "right", "values": [-0.02, -0.01, 0.01, 0.02, 0.03, 0.04, 0.06, 0.07, 0.08, 0.09, 0.11, 0.12, 0.13, 0.14, 0.16, 0.17, 0.18, 0.19, 0.21, 0.22, 0.23, 0.24, 0.26, 0.27, 0.28, 0.29, 0.31, 0.32, 0.33, 0.34, 0.36, 0.37, 0.38, 0.39, 0.41, 0.42, 0.43, 0.44, 0.46, 0.47], "labels": false, "domain": false, "tickSize": -6, "title": null}}
                  }
                }
              ]
            }
          ]
        }
      ]
    }
  ]
}
